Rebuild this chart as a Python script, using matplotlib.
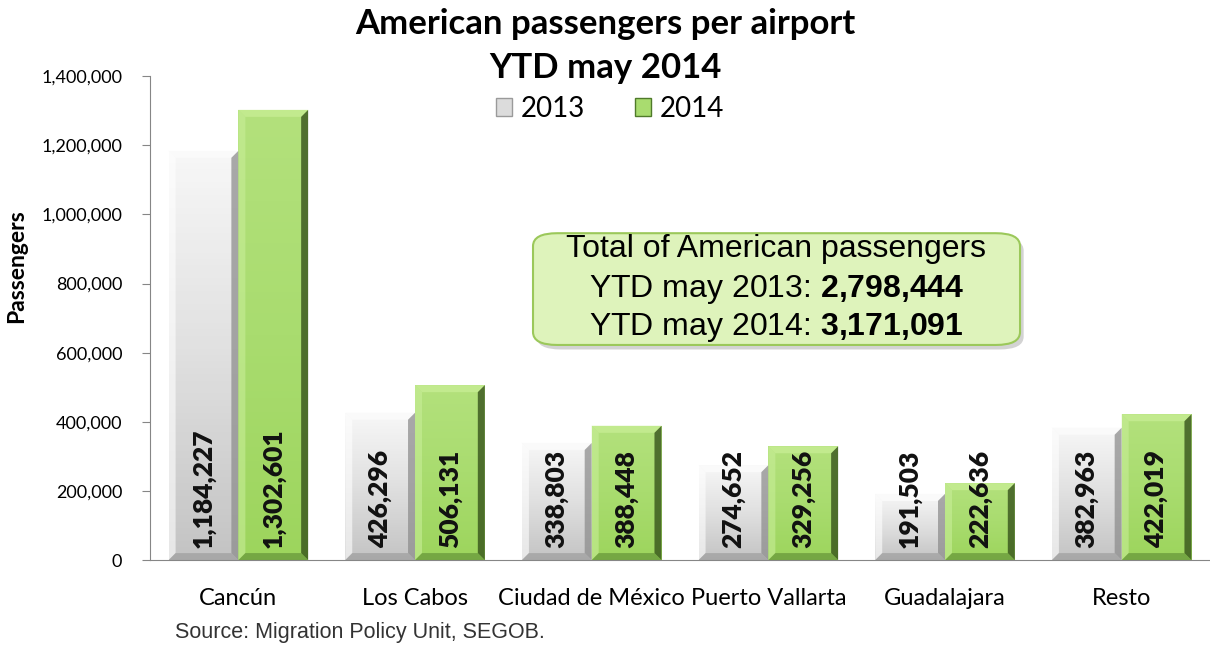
import numpy as np
import matplotlib
matplotlib.use("Agg")
import matplotlib.pyplot as plt
from matplotlib.patches import Polygon, FancyBboxPatch
from matplotlib.colors import LinearSegmentedColormap
from matplotlib.ticker import FuncFormatter

airports = ["Cancún", "Los Cabos", "Ciudad de México", "Puerto Vallarta", "Guadalajara", "Resto"]
pax_2013 = [1184227, 426296, 338803, 274652, 191503, 382963]
pax_2014 = [1302601, 506131, 388448, 329256, 222636, 422019]
years = ["2013", "2014"]
total_2013 = "2,798,444"
total_2014 = "3,171,091"

plt.rcParams["font.family"] = ["Lato", "DejaVu Sans"]
plt.rcParams["mathtext.fontset"] = "custom"
plt.rcParams["mathtext.rm"] = "Liberation Sans"
plt.rcParams["mathtext.bf"] = "Liberation Sans:bold"

gray_cm = LinearSegmentedColormap.from_list("g", ["#c4c4c4", "#e0e0e0", "#f7f7f7"])
green_cm = LinearSegmentedColormap.from_list("v", ["#9dd55d", "#a9dc6f", "#b3e17c"])


def shade(ax, rect, cmap):
    x0, y0 = rect.get_x(), rect.get_y()
    grad = np.linspace(0, 1, 64).reshape(-1, 1)
    im = ax.imshow(grad, cmap=cmap, origin="lower", aspect="auto", zorder=2.5,
                   extent=(x0, x0 + rect.get_width(), y0, y0 + rect.get_height()))
    im.set_clip_path(rect)


def bevel(ax, rect, light, top, dark, bottom, px=7):
    # fake the Excel bevel with trapezoids around the bar face
    x0, y0 = rect.get_x(), rect.get_y()
    w, h = rect.get_width(), rect.get_height()
    inv = ax.transData.inverted()
    p0 = inv.transform((0, 0))
    p1 = inv.transform((px, px))
    dx, dy = p1[0] - p0[0], p1[1] - p0[1]
    dy = min(dy, h / 3)
    x1, y1 = x0 + w, y0 + h
    kw = dict(closed=True, ec="none", zorder=3)
    ax.add_patch(Polygon([(x0, y1), (x1, y1), (x1 - dx, y1 - dy), (x0 + dx, y1 - dy)], fc=top, **kw))
    ax.add_patch(Polygon([(x0, y0), (x0, y1), (x0 + dx, y1 - dy), (x0 + dx, y0 + dy)], fc=light, alpha=0.6, **kw))
    ax.add_patch(Polygon([(x1, y0), (x1, y1), (x1 - dx, y1 - dy), (x1 - dx, y0 + dy)], fc=dark, alpha=0.75, **kw))
    ax.add_patch(Polygon([(x0, y0), (x1, y0), (x1 - dx, y0 + dy), (x0 + dx, y0 + dy)], fc=bottom, alpha=0.5, **kw))


fig = plt.figure(figsize=(12.1, 6.46), dpi=100)
ax = fig.add_axes([0.124, 0.133, 0.876, 0.749])

x = np.arange(len(airports))
width = 0.395
bars13 = ax.bar(x - width / 2, pax_2013, width, color="#dcdcdc", zorder=2, label=years[0])
bars14 = ax.bar(x + width / 2, pax_2014, width, color="#a9dc6f", zorder=2, label=years[1])

ax.set_xlim(-0.5, len(airports) - 0.5)
ax.set_ylim(0, 1400000)
ax.set_yticks(np.arange(0, 1400001, 200000))
ax.yaxis.set_major_formatter(FuncFormatter(lambda v, p: f"{int(v):,}"))
ax.set_xticks(x)
ax.set_xticklabels(airports, fontsize=17)
ax.tick_params(axis="y", labelsize=13, length=6, color="#868686", pad=14)
ax.tick_params(axis="x", length=0, pad=20)
for s in ["top", "right"]:
    ax.spines[s].set_visible(False)
ax.spines["left"].set_color("#868686")
ax.spines["bottom"].set_color("#868686")
ax.set_ylabel("Passengers", fontsize=16.5, fontweight="bold")
ax.yaxis.set_label_coords(-0.116, 0.607)

fig.canvas.draw()
for r in bars13:
    shade(ax, r, gray_cm)
    bevel(ax, r, "#ffffff", "#fafafa", "#8e8e8e", "#8e8e8e")
for r in bars14:
    shade(ax, r, green_cm)
    bevel(ax, r, "#c8ee98", "#c2ea8e", "#2f4a16", "#4f7a2a")
ax.set_xlim(-0.5, len(airports) - 0.5)
ax.set_ylim(0, 1400000)

for bars, vals in [(bars13, pax_2013), (bars14, pax_2014)]:
    for r, v in zip(bars, vals):
        ax.annotate(f"{v:,}", (r.get_x() + r.get_width() / 2, 0), xytext=(0, 9),
                    textcoords="offset points", rotation=90, ha="center", va="bottom",
                    fontsize=19, fontweight="heavy", color="#111111", zorder=5)

fig.text(0.5, 0.963, "American passengers per airport", ha="center", va="center",
         fontsize=25, fontweight="bold")
fig.text(0.5, 0.895, "YTD may 2014", ha="center", va="center", fontsize=25, fontweight="bold")

leg = ax.legend(loc="center", bbox_to_anchor=(0.504, 0.832), bbox_transform=fig.transFigure,
                ncol=2, frameon=False, fontsize=20, handlelength=0.6, handleheight=0.6,
                columnspacing=1.8, handletextpad=0.3)
for h, ec in zip(leg.legend_handles, ["#9a9a9a", "#4f7a2a"]):
    h.set_edgecolor(ec)

box = FancyBboxPatch((0.4405, 0.466), 0.4025, 0.173, boxstyle="round,pad=0,rounding_size=0.02",
                     transform=fig.transFigure, fc="#def3bb", ec="#9bc85a", lw=1.5, zorder=6)
shadow = FancyBboxPatch((0.4435, 0.459), 0.4025, 0.173, boxstyle="round,pad=0,rounding_size=0.02",
                        transform=fig.transFigure, fc="#a8a8a8", ec="none", alpha=0.5, zorder=5)
fig.patches.extend([shadow, box])
bx = 0.6415
fig.text(bx, 0.614, "Total of American passengers", ha="center", va="center", fontsize=23,
         family="Liberation Sans", zorder=7)
fig.text(bx, 0.552, "YTD may 2013: $\\mathbf{" + total_2013.replace(",", "{,}") + "}$",
         ha="center", va="center", fontsize=23, family="Liberation Sans", zorder=7)
fig.text(bx, 0.493, "YTD may 2014: $\\mathbf{" + total_2014.replace(",", "{,}") + "}$",
         ha="center", va="center", fontsize=23, family="Liberation Sans", zorder=7)

fig.text(0.145, 0.012, "Source: Migration Policy Unit, SEGOB.", fontsize=15.5,
         family="Liberation Sans", color="#333333")

fig.savefig("out.png", dpi=100)
